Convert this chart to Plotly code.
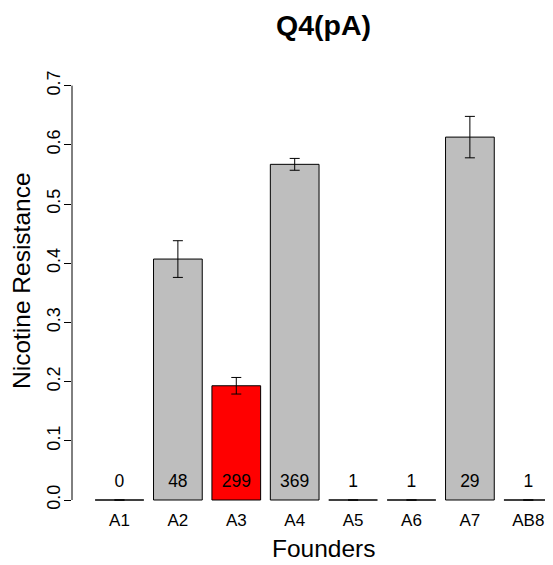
import plotly.graph_objects as go

founders = ["A1", "A2", "A3", "A4", "A5", "A6", "A7", "AB8"]
resistance = [0.0, 0.407, 0.193, 0.567, 0.0, 0.0, 0.613, 0.0]
errors = [0.0, 0.031, 0.014, 0.010, 0.0, 0.0, 0.035, 0.0]
counts = [0, 48, 299, 369, 1, 1, 29, 1]
bar_colors = ["#BEBEBE", "#BEBEBE", "#FF0000", "#BEBEBE", "#BEBEBE", "#BEBEBE", "#BEBEBE", "#BEBEBE"]
count_label_y = 0.03
y_ticks = [0.0, 0.1, 0.2, 0.3, 0.4, 0.5, 0.6, 0.7]

FONT = "Liberation Sans, Arial, Helvetica, sans-serif"

fig = go.Figure()
fig.add_trace(go.Bar(
    x=founders, y=resistance,
    marker=dict(color=bar_colors, line=dict(color="black", width=1)),
    error_y=dict(type="data", array=errors, visible=True, color="black", thickness=1, width=5),
    hoverinfo="skip", showlegend=False,
))
fig.add_trace(go.Scatter(
    x=founders, y=[count_label_y] * len(founders), mode="text",
    text=[str(c) for c in counts], textposition="middle center",
    textfont=dict(family=FONT, size=17.5, color="black"),
    hoverinfo="skip", showlegend=False,
))

fig.update_layout(
    width=545, height=557,
    margin=dict(l=64, r=0, t=30, b=48),
    paper_bgcolor="white", plot_bgcolor="white",
    bargap=0.166,
    font=dict(family=FONT, color="black"),
    xaxis=dict(
        range=[-0.813, 7.423], showgrid=False, zeroline=False, showline=False,
        ticks="", tickfont=dict(size=17, family=FONT), ticklabelstandoff=-9,
    ),
    yaxis=dict(
        range=[-0.0287, 0.7804], showgrid=False, zeroline=False, showline=False,
        tickmode="array", tickvals=y_ticks, ticktext=[f"{v:.1f}" for v in y_ticks],
        ticks="outside", ticklen=7, tickwidth=1, tickcolor="black",
        tickangle=-90, tickfont=dict(size=18, family=FONT), ticklabelstandoff=-3,
    ),
    shapes=[dict(type="line", xref="paper", x0=0, x1=0, yref="y", y0=y_ticks[0], y1=y_ticks[-1],
                 line=dict(color="black", width=1))],
    annotations=[
        dict(text="<b>Q4(pA)</b>", xref="paper", yref="paper", x=0.5225, y=1.027,
             xanchor="center", yanchor="middle", showarrow=False, font=dict(size=28.5, family=FONT)),
        dict(text="Founders", xref="paper", yref="paper", x=0.524, y=-0.0668,
             xanchor="center", yanchor="middle", showarrow=False, font=dict(size=24.5, family=FONT)),
        dict(text="Nicotine Resistance", xref="paper", yref="paper", x=-0.104, y=0.4948,
             xanchor="center", yanchor="middle", textangle=-90, showarrow=False,
             font=dict(size=24.5, family=FONT)),
    ],
)

fig.write_html("out.html")
